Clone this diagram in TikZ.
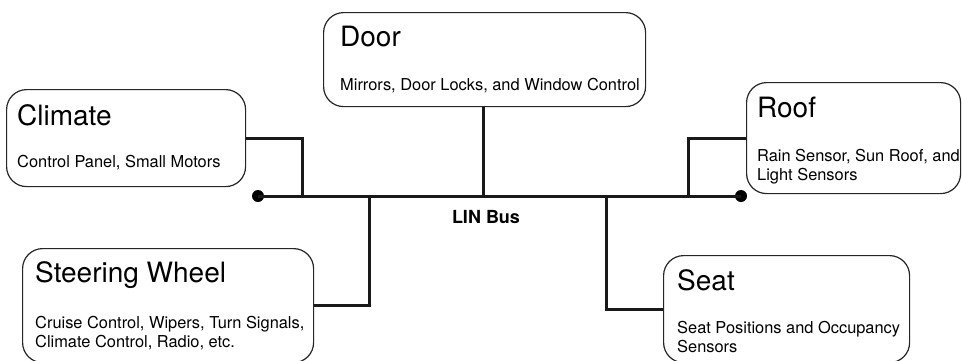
\documentclass[tikz,border=0pt]{standalone}
\usepackage{fontspec}
\setmainfont{TeX Gyre Heros}
\begin{document}
\begin{tikzpicture}[x=1pt,y=-1pt,
  ecu/.style={draw=black!85, line width=1.2pt, rounded corners=20pt, fill=white,
    rectangle, inner sep=0pt, anchor=north west},
  ttl/.style={anchor=base west, inner sep=0pt, font=\fontsize{28}{32}\selectfont},
  sub/.style={anchor=base west, inner sep=0pt, align=left,
    font=\fontsize{16.4}{19.5}\selectfont},
  wire/.style={line width=3pt, black!90},
  term/.style={circle, fill=black, inner sep=0pt, minimum size=12pt}]

\useasboundingbox (0,0) rectangle (962,360);

% module boxes
\node[ecu, minimum width=239pt, minimum height=97pt]  (climate) at (6,89) {};
\node[ecu, minimum width=322pt, minimum height=94pt]  (door)    at (323,12) {};
\node[ecu, minimum width=214pt, minimum height=111pt] (roof)    at (746,82) {};
\node[ecu, minimum width=291pt, minimum height=114pt] (steer)   at (22,248) {};
\node[ecu, minimum width=246pt, minimum height=107pt] (seat)    at (663,255) {};

% titles and descriptions
\node[ttl] (climateT) at (17,125) {Climate};
\node[sub] (climateS) at (17,167) {Control Panel, Small Motors};
\node[ttl] (doorT) at (340,46) {Door};
\node[sub] (doorS) at (340,90) {Mirrors, Door Locks, and Window Control};
\node[ttl] (roofT) at (757,117) {Roof};
\node[sub, anchor=north west] (roofS) at (757,149) {Rain Sensor, Sun Roof, and\\Light Sensors};
\node[ttl] (steerT) at (35,282) {Steering Wheel};
\node[sub, anchor=north west] (steerS) at (35,316) {Cruise Control, Wipers, Turn Signals,\\Climate Control, Radio, etc.};
\node[ttl] (seatT) at (677,290) {Seat};
\node[sub, anchor=north west] (seatS) at (677,321) {Seat Positions and Occupancy\\Sensors};

% the bus
\node[term] (busL) at (258,196) {};
\node[term] (busR) at (741,196) {};
\draw[wire] (busL.center) -- (busR.center);
\node[anchor=base, inner sep=0pt, font=\bfseries\fontsize{18}{20}\selectfont] (buslabel) at (486,223) {LIN Bus};

% taps on the bus
\coordinate (tClimate) at (302,196);
\coordinate (tDoor)    at (483,196);
\coordinate (tRoof)    at (688,196);
\coordinate (tSteer)   at (369,196);
\coordinate (tSeat)    at (606,196);

\draw[wire] (climate.east) -| (tClimate);
\draw[wire] (door.south -| tDoor) -- (tDoor);
\draw[wire] (roof.west) -| (tRoof);
\draw[wire] (steer.east) -| (tSteer);
\draw[wire] (seat.west) -| (tSeat);
\end{tikzpicture}
\end{document}
